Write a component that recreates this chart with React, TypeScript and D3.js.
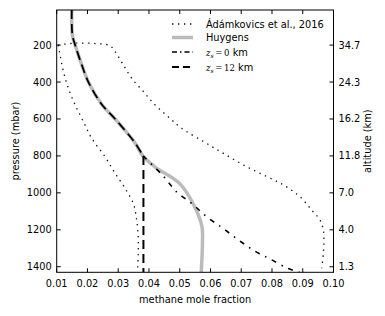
import React from "react";
import * as d3 from "d3";

// methane mole fraction vs pressure (mbar)
const xTicks = [0.01, 0.02, 0.03, 0.04, 0.05, 0.06, 0.07, 0.08, 0.09, 0.1];
const pTicks = [200, 400, 600, 800, 1000, 1200, 1400];
const altLabels = ["34.7", "24.3", "16.2", "11.8", "7.0", "4.0", "1.3"];

const adamLowP = [200, 254, 344, 434, 524, 615, 705, 804, 894, 975, 1057, 1147, 1237, 1327, 1418];
const adamLowX = [0.0105, 0.0111, 0.0122, 0.0138, 0.016, 0.0187, 0.0214, 0.0257, 0.029, 0.0322, 0.0349, 0.036, 0.0365, 0.0365, 0.0363];

const adamHighP = [200, 190, 192, 203, 236, 308, 380, 452, 524, 596, 650, 725, 786, 849, 903, 957, 1021, 1093, 1147, 1201, 1255, 1327, 1408];
const adamHighX = [0.0105, 0.0154, 0.023, 0.0273, 0.029, 0.0317, 0.0344, 0.0382, 0.042, 0.0468, 0.0506, 0.058, 0.0642, 0.0707, 0.0772, 0.0837, 0.0891, 0.0929, 0.0956, 0.0967, 0.0969, 0.0967, 0.0962];

const huygensP = [10, 145, 200, 300, 400, 520, 600, 730, 800, 860, 950, 1060, 1180, 1260, 1430];
const huygensX = [0.0149, 0.0151, 0.016, 0.018, 0.0203, 0.0246, 0.029, 0.0355, 0.038, 0.042, 0.05, 0.0544, 0.0572, 0.0574, 0.057];

// model profile above the saturation level, shared by both z_s runs
const upperP = [10, 145, 200, 300, 400, 520, 600, 730, 800];
const upperX = [0.0149, 0.0151, 0.016, 0.018, 0.0203, 0.0246, 0.029, 0.0355, 0.0381];

const z0P = [800, 910, 995, 1057, 1130, 1190, 1255, 1313, 1360, 1410, 1430];
const z0X = [0.0381, 0.0447, 0.049, 0.0539, 0.0588, 0.0639, 0.0691, 0.0742, 0.0796, 0.0853, 0.089];

const z12P = [800, 1430];
const z12X = [0.0382, 0.0382];

const W = 385;
const H = 316;
const FONT = "DejaVu Sans";

const x = d3.scaleLinear().domain([0.01, 0.1]).range([56.7, 333.5]);
const y = d3.scaleLinear().domain([10, 1430]).range([10, 272.3]);

const line = d3
  .line<[number, number]>()
  .x((d) => x(d[0]))
  .y((d) => y(d[1]))
  .curve(d3.curveCatmullRom.alpha(0.5));

const pts = (xs: number[], ps: number[]) => xs.map((v, i) => [v, ps[i]] as [number, number]);

const dotted = "1.4,4.6";
const dashDot = "5,6,1.5,6";
const dashed = "9,5";

const App: React.FC = () => {
  const [x0, x1] = x.range();
  const [y0, y1] = y.range();

  const legend = [
    { label: "adam", stroke: "#111", w: 1.3, dash: dotted, y: 24 },
    { label: "huy", stroke: "#bbbbbb", w: 3.5, dash: undefined, y: 37.5 },
    { label: "z0", stroke: "#000", w: 1.6, dash: "5,3,1.5,3", y: 52 },
    { label: "z12", stroke: "#000", w: 2, dash: "7,4", y: 67 },
  ];

  return (
    <svg
      width={W}
      height={H}
      style={{ position: "absolute", left: 0, top: 0, background: "#fff" }}
      fontFamily={FONT}
      fontSize={9.8}
    >
      <defs>
        <clipPath id="plot">
          <rect x={x0} y={y0} width={x1 - x0} height={y1 - y0} />
        </clipPath>
      </defs>

      <g clipPath="url(#plot)" fill="none">
        <path d={line(pts(adamLowX, adamLowP)) ?? ""} stroke="#111" strokeWidth={1.3} strokeDasharray={dotted} />
        <path d={line(pts(adamHighX, adamHighP)) ?? ""} stroke="#111" strokeWidth={1.3} strokeDasharray={dotted} />
        <path d={line(pts(huygensX, huygensP)) ?? ""} stroke="#bbbbbb" strokeWidth={3.5} />
        <path d={line(pts(z0X, z0P)) ?? ""} stroke="#000" strokeWidth={1.6} strokeDasharray={dashDot} />
        <path d={line(pts(upperX, upperP)) ?? ""} stroke="#000" strokeWidth={1.8} strokeDasharray={dashed} />
        <path d={line(pts(z12X, z12P)) ?? ""} stroke="#000" strokeWidth={2} strokeDasharray={dashed} />
      </g>

      {/* frame */}
      <rect x={x0} y={y0} width={x1 - x0} height={y1 - y0} fill="none" stroke="#000" strokeWidth={1} />

      {/* x ticks */}
      {xTicks.map((t) => (
        <g key={t}>
          <line x1={x(t)} x2={x(t)} y1={y1} y2={y1 - 4} stroke="#000" />
          <line x1={x(t)} x2={x(t)} y1={y0} y2={y0 + 4} stroke="#000" />
          <text x={x(t)} y={y1 + 14.5} textAnchor="middle">
            {t.toFixed(2)}
          </text>
        </g>
      ))}

      {/* y ticks */}
      {pTicks.map((p, i) => (
        <g key={p}>
          <line x1={x0} x2={x0 + 4} y1={y(p)} y2={y(p)} stroke="#000" />
          <line x1={x1} x2={x1 - 4} y1={y(p)} y2={y(p)} stroke="#000" />
          <text x={x0 - 5} y={y(p) + 3.5} textAnchor="end">
            {p}
          </text>
          <text x={x1 + 5} y={y(p) + 3.5} textAnchor="start">
            {altLabels[i]}
          </text>
        </g>
      ))}

      <text x={(x0 + x1) / 2} y={303} textAnchor="middle">
        methane mole fraction
      </text>
      <text transform={`translate(19,${(y0 + y1) / 2}) rotate(-90)`} textAnchor="middle">
        pressure (mbar)
      </text>
      <text transform={`translate(371,${(y0 + y1) / 2}) rotate(-90)`} textAnchor="middle">
        altitude (km)
      </text>

      {/* legend */}
      {legend.map((l) => (
        <line
          key={l.label}
          x1={172}
          x2={193}
          y1={l.y}
          y2={l.y}
          stroke={l.stroke}
          strokeWidth={l.w}
          strokeDasharray={l.dash}
        />
      ))}
      <text x={206} y={24 + 3.5}>Ádámkovics et al., 2016</text>
      <text x={206} y={37.5 + 3.5}>Huygens</text>
      <text x={206} y={52 + 3.5}>
        <tspan fontFamily="DejaVu Serif" fontStyle="italic" fontSize={8.5}>z</tspan>
        <tspan fontFamily="DejaVu Serif" fontStyle="italic" fontSize={6} dy={2}>s</tspan>
        <tspan fontFamily="DejaVu Serif" fontSize={8.5} dy={-2}>{"\u2009=\u20090"}</tspan>
        <tspan> km</tspan>
      </text>
      <text x={206} y={67 + 3.5}>
        <tspan fontFamily="DejaVu Serif" fontStyle="italic" fontSize={8.5}>z</tspan>
        <tspan fontFamily="DejaVu Serif" fontStyle="italic" fontSize={6} dy={2}>s</tspan>
        <tspan fontFamily="DejaVu Serif" fontSize={8.5} dy={-2}>{"\u2009=\u200912"}</tspan>
        <tspan> km</tspan>
      </text>
    </svg>
  );
};

export default App;
